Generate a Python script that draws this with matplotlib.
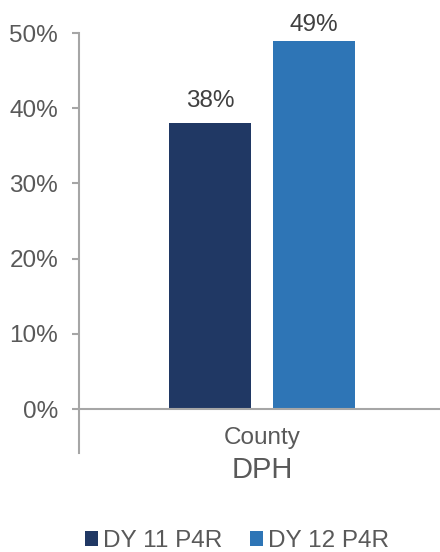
import numpy as np
import matplotlib.pyplot as plt
from matplotlib.patches import Patch
from matplotlib.lines import Line2D

plt.rcParams['font.family'] = ['Liberation Sans', 'DejaVu Sans']

categories = ['County']
group_label = 'DPH'
series_names = ['DY 11 P4R', 'DY 12 P4R']
series_values = [[38], [49]]
colors = ['#203864', '#2E75B6']
yticks = [0, 10, 20, 30, 40, 50]
ytick_labels = ['0%', '10%', '20%', '30%', '40%', '50%']

txt = '#595959'
axc = '#A6A6A6'
fs = 17.5

fig = plt.figure(figsize=(4.4, 5.52), dpi=100)
ax = fig.add_axes([79/440, 143/552, 366/440, 376/552])

x = np.arange(len(categories))
w = 0.224
offsets = [-0.142, 0.142]
label_pad = [8, 3.5]  # top label squeezed under the plot edge
for name, vals, c, off, lp in zip(series_names, series_values, colors, offsets, label_pad):
    bars = ax.bar(x + off, vals, width=w, color=c, label=name)
    for b, v in zip(bars, vals):
        ax.annotate(f'{v}%', (b.get_x() + b.get_width()/2, v),
                    xytext=(0, lp), textcoords='offset points',
                    ha='center', va='bottom', fontsize=fs, color='#404040')

ax.set_xlim(-0.5, 0.5)
ax.set_ylim(0, 50)
ax.set_yticks(yticks)
ax.set_yticklabels(ytick_labels)
ax.set_xticks(x)
ax.set_xticklabels(categories)
ax.tick_params(axis='y', length=5, width=1.5, color=axc, pad=10,
               labelsize=fs, labelcolor=txt)
ax.tick_params(axis='x', length=0, pad=13, labelsize=fs, labelcolor=txt)

for s in ['top', 'right', 'left']:
    ax.spines[s].set_visible(False)
ax.spines['bottom'].set_color(axc)
ax.spines['bottom'].set_linewidth(1.5)
ax.add_line(Line2D([0, 0], [-44/376, 1], transform=ax.transAxes,
                   color=axc, lw=1.5, clip_on=False))

ax.text(0.5, -0.162, group_label, transform=ax.transAxes, ha='center',
        va='center', fontsize=21, color=txt)

handles = [Patch(facecolor=c, label=n) for n, c in zip(series_names, colors)]
fig.legend(handles=handles, loc='center', bbox_to_anchor=(237/440, 11/552),
           ncol=2, frameon=False, fontsize=fs, handlelength=0.55,
           handleheight=0.55, handletextpad=0.2, columnspacing=1.15,
           labelcolor=txt)

fig.savefig('out.png', dpi=100)
